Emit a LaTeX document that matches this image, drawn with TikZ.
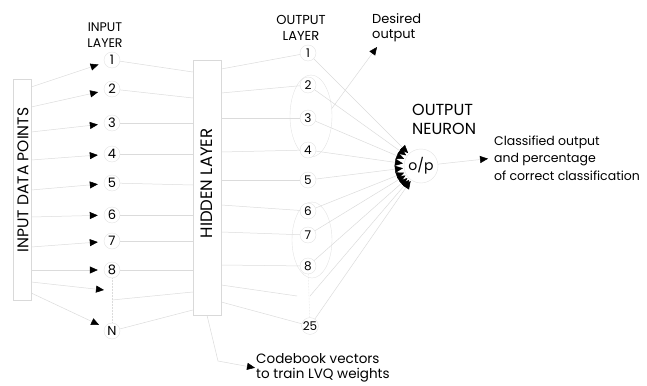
\documentclass[tikz,border=0pt]{standalone}
\usepackage{fontspec}
\setmainfont{Poppins}
\usetikzlibrary{arrows.meta,calc,shapes.geometric}

\tikzset{
  wire/.style={draw=gray!28, line width=0.5pt},
  feed/.style={wire, -{Triangle[black,length=8pt,width=7pt]}, shorten >=6pt},
  unit/.style={circle, draw=gray!22, fill=white, inner sep=0pt, minimum size=16pt},
  bar/.style={rectangle, draw=gray!30, fill=white, inner sep=0pt},
  tag/.style={align=left, inner sep=0pt}
}

\begin{document}
\begin{tikzpicture}[x=1pt, y=-1pt]
  \useasboundingbox (0,0) rectangle (647,385);
  % groups of output units
  \node[ellipse, draw=gray!22, minimum width=42pt, minimum height=82pt] (g1) at (311,116) {};
  \node[ellipse, draw=gray!22, minimum width=40pt, minimum height=76pt] (g2) at (312,240) {};
  % the two layers drawn as bars
  \node[bar, minimum width=18pt, minimum height=221pt] (inp) at (22,190) {};
  \node[rotate=90, font=\fontsize{15.5}{15.5}\selectfont] (inptxt) at (23,180) {INPUT DATA POINTS};
  \node[bar, minimum width=28pt, minimum height=255pt] (hid) at (207,187.5) {};
  \node[rotate=90, font=\fontsize{16.5}{16.5}\selectfont] (hidtxt) at (207,183.5) {HIDDEN LAYER};
  % input layer
  \node[tag, align=center, font=\fontsize{12.5}{16}\selectfont] (inlab) at (105,35) {INPUT\\LAYER};
  \node[unit, font=\fontsize{13}{13}\selectfont] (i1) at (112,60) {1};
  \node[unit, font=\fontsize{13}{13}\selectfont] (i2) at (112,89) {2};
  \node[unit, font=\fontsize{13}{13}\selectfont] (i3) at (112,123) {3};
  \node[unit, font=\fontsize{13}{13}\selectfont] (i4) at (112,154) {4};
  \node[unit, font=\fontsize{13}{13}\selectfont] (i5) at (112,183) {5};
  \node[unit, font=\fontsize{13}{13}\selectfont] (i6) at (112,215) {6};
  \node[unit, font=\fontsize{13}{13}\selectfont] (i7) at (112,241) {7};
  \node[unit, font=\fontsize{13}{13}\selectfont] (i8) at (112,270) {8};
  \node[unit, font=\fontsize{13}{13}\selectfont] (iN) at (112,331) {N};
  \coordinate (i9) at (104,290);
  \coordinate (h9) at (112,300);
  % output layer
  \node[tag, align=center, font=\fontsize{13}{16}\selectfont] (outlab) at (301,28) {OUTPUT\\LAYER};
  \node[unit, font=\fontsize{12}{12}\selectfont] (o1) at (308,53) {1};
  \node[unit, font=\fontsize{12}{12}\selectfont] (o2) at (308,85) {2};
  \node[unit, font=\fontsize{12}{12}\selectfont] (o3) at (308,118) {3};
  \node[unit, font=\fontsize{12}{12}\selectfont] (o4) at (308,150) {4};
  \node[unit, font=\fontsize{12}{12}\selectfont] (o5) at (308,180) {5};
  \node[unit, font=\fontsize{12}{12}\selectfont] (o6) at (308,211) {6};
  \node[unit, font=\fontsize{12}{12}\selectfont] (o7) at (308,235) {7};
  \node[unit, font=\fontsize{12}{12}\selectfont] (o8) at (308,266) {8};
  \node[unit, font=\fontsize{12}{12}\selectfont] (o25) at (310,326) {25};
  \coordinate (o9) at (310,296);
  % output neuron
  \node[unit, minimum size=34pt, font=\fontsize{14}{14}\selectfont] (op) at (421,166) {o/p};
  \node[tag, anchor=west, font=\fontsize{16}{19}\selectfont] (oplab) at (412,119) {OUTPUT\\NEURON};
  \node[tag, anchor=west, font=\fontsize{12.5}{17.5}\selectfont] (cls) at (494,158) {Classified output\\and percentage\\of correct classification};
  \node[tag, anchor=west, font=\fontsize{13}{15}\selectfont] (des) at (372,28) {Desired\\output};
  \node[tag, anchor=west, font=\fontsize{13.5}{15}\selectfont] (cb) at (256,368) {Codebook vectors\\to train LVQ weights};
  \coordinate (dtip) at (377,47);
  \coordinate (bend) at (218,361);
  % data points into the input layer
  \draw[feed] (inp.east |- 0,87) -- (i1);
  \draw[feed] (inp.east |- 0,107) -- (i2);
  \draw[feed] (inp.east |- 0,132) -- (i3);
  \draw[feed] (inp.east |- 0,160) -- (i4);
  \draw[feed] (inp.east |- 0,190) -- (i5);
  \draw[feed] (inp.east |- 0,217) -- (i6);
  \draw[feed] (inp.east |- 0,247) -- (i7);
  \draw[feed] (inp.east |- 0,270) -- (i8);
  \draw[feed, shorten >=0pt] (inp.east |- 0,282) -- (i9);
  \draw[feed] (inp.east |- 0,293) -- (iN);
  % input layer to hidden layer
  \draw[wire] (i1) -- (hid.west |- 0,72);
  \draw[wire] (i2) -- (hid.west |- 0,98);
  \draw[wire] (i3) -- (hid.west |- 0,123);
  \draw[wire] (i4) -- (hid.west |- 0,154);
  \draw[wire] (i5) -- (hid.west |- 0,185);
  \draw[wire] (i6) -- (hid.west |- 0,215);
  \draw[wire] (i7) -- (hid.west |- 0,241);
  \draw[wire] (i8) -- (hid.west |- 0,270);
  \draw[wire] (h9) -- (hid.west |- 0,292);
  \draw[wire] (iN) -- (hid.west |- 0,310);
  \draw[wire, densely dotted] (i8) -- (iN);
  % hidden layer to output layer
  \draw[wire] (hid.east |- 0,69) -- (o1);
  \draw[wire] (hid.east |- 0,93) -- (o2);
  \draw[wire] (hid.east |- 0,118) -- (o3);
  \draw[wire] (hid.east |- 0,152) -- (o4);
  \draw[wire] (hid.east |- 0,180) -- (o5);
  \draw[wire] (hid.east |- 0,205) -- (o6);
  \draw[wire] (hid.east |- 0,232) -- (o7);
  \draw[wire] (hid.east |- 0,265) -- (o8);
  \draw[wire] (hid.east |- 0,285) -- (297,296);
  \draw[wire] (hid.east |- 0,302) -- (o25);
  \draw[wire, densely dotted] (o8) -- (o25);
  % output layer to output neuron
  \draw[feed, shorten >=1pt] (o1) -- (op);
  \draw[feed, shorten >=1pt] (o2) -- (op);
  \draw[feed, shorten >=1pt] (o3) -- (op);
  \draw[feed, shorten >=1pt] (o4) -- (op);
  \draw[feed, shorten >=1pt] (o5) -- (op);
  \draw[feed, shorten >=1pt] (o6) -- (op);
  \draw[feed, shorten >=1pt] (o7) -- (op);
  \draw[feed, shorten >=1pt] (o8) -- (op);
  \draw[feed, shorten >=1pt] (o9) -- (op);
  \draw[feed, shorten >=1pt] (o25) -- (op);
  \draw[feed] (op) -- (cls.west);
  % side notes
  \draw[feed, shorten >=0pt] (g1.20) -- (dtip);
  \draw[feed, shorten >=1pt] (hid.south) -- (bend) -- (cb.west);
\end{tikzpicture}
\end{document}
